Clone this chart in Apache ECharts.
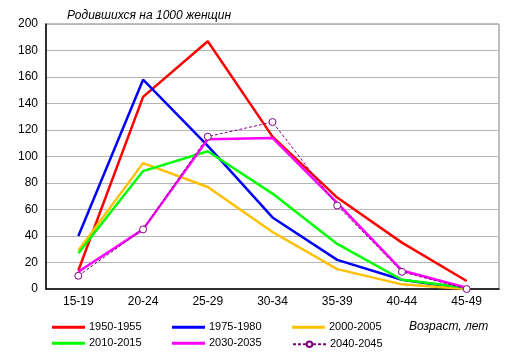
<!DOCTYPE html>
<html><head><meta charset="utf-8">
<script src="https://cdn.jsdelivr.net/npm/echarts@6/dist/echarts.min.js"></script>
<style>html,body{margin:0;padding:0;background:#fff}#c{width:514px;height:356px}</style>
</head><body><div id="c"></div>
<script>
const categories = ['15-19','20-24','25-29','30-34','35-39','40-44','45-49'];
const s1950 = [14, 145, 187, 115, 69, 35, 6];
const s1975 = [40, 158, 108, 54, 22, 7, 0];
const s2000 = [29, 95, 77, 43, 15, 3.5, 0];
const s2010 = [27, 89, 104, 72, 34, 7, 1];
const s2030 = [13, 45, 113, 114, 65, 14, 1];
const s2040 = [10, 45, 115, 126, 63, 13, 0];
const seriesNames = ['1950-1955','1975-1980','2000-2005','2010-2015','2030-2035','2040-2045'];
const yTicks = {min: 0, max: 200, interval: 20};

const font = 'Liberation Sans, Arial, sans-serif';
const colors = ['#ff0000','#0000ff','#ffc000','#00ff00','#ff00ff','#800080'];
const data = [s1950, s1975, s2000, s2010, s2030, s2040];

const series = data.map((d, i) => {
  const isLast = i === 5;
  return {
    name: seriesNames[i], type: 'line', data: d,
    symbol: isLast ? 'circle' : 'none', symbolSize: 7,
    showSymbol: isLast,
    itemStyle: {color: isLast ? '#fff' : colors[i], borderColor: colors[i], borderWidth: 1},
    lineStyle: {color: colors[i], width: isLast ? 1 : 2.5, type: isLast ? [3, 2] : 'solid'},
    z: isLast ? 10 : 2 + i,
    animation: false
  };
});

const lineIcon = 'path://M0,0L0.001,0L0.001,0.001Z M0,3.5L33,3.5L33,6.5L0,6.5Z M0,10L0.001,10L0.001,9.999Z';
const rowCenters = [326.7, 342.7];
const colLefts = [52, 172, 292];
const legends = seriesNames.map((n, i) => {
  const isLast = i === 5;
  const h = isLast ? 7 : 10;
  const leg = {
    data: [isLast ? {name: n} : {name: n, icon: lineIcon}],
    left: colLefts[i % 3], top: rowCenters[Math.floor(i / 3)] - (isLast ? 4 : 5),
    itemWidth: 33, itemHeight: h, itemGap: 4,
    textStyle: {fontFamily: font, fontSize: 11, color: '#000', padding: [0,0,0,-1]},
    padding: 0, selectedMode: false
  };
  if (!isLast) leg.itemStyle = {borderWidth: 0, color: colors[i]};
  return leg;
});

const chart = echarts.init(document.getElementById('c'));
chart.setOption({
  backgroundColor: '#fff',
  animation: false,
  title: [{text: 'Родившихся на 1000 женщин', left: 62, top: 5,
    textStyle: {fontFamily: font, fontSize: 12, fontStyle: 'italic', fontWeight: 'normal', color: '#000'}},
    {text: 'Возраст, лет', left: 404, top: 316,
    textStyle: {fontFamily: font, fontSize: 12, fontStyle: 'italic', fontWeight: 'normal', color: '#000'}}],
  legend: legends,
  grid: {left: 46, right: 15, top: 24, bottom: 67, show: true, borderColor: '#808080', borderWidth: 1},
  xAxis: {type: 'category', data: categories, boundaryGap: true,
    axisLine: {lineStyle: {color: '#000', width: 1.5}}, axisTick: {show: false},
    axisLabel: {fontFamily: font, fontSize: 12, color: '#000', margin: 7}},
  yAxis: {type: 'value', min: yTicks.min, max: yTicks.max, interval: yTicks.interval,
    axisLine: {show: true, lineStyle: {color: '#000', width: 1.5}}, axisTick: {show: false},
    splitLine: {lineStyle: {color: '#b4b4b4', width: 1}},
    axisLabel: {fontFamily: font, fontSize: 12, color: '#000', margin: 8}},
  series: series
});
</script></body></html>
